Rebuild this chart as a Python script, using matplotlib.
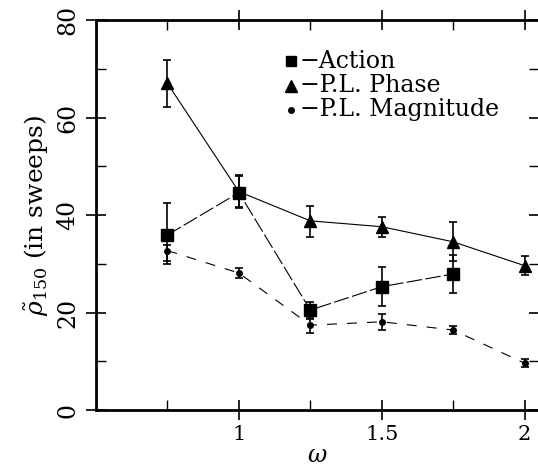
import matplotlib.pyplot as plt
import numpy as np

# data
omega = [0.75, 1.0, 1.25, 1.5, 1.75, 2.0]

phase = [67.0, 44.8, 38.8, 37.6, 34.5, 29.6]
phase_lo = [4.8, 3.2, 3.4, 2.2, 4.0, 2.0]
phase_hi = [4.8, 3.4, 3.0, 2.0, 4.0, 2.0]

action_x = [0.75, 1.0, 1.25, 1.5, 1.75]
action = [35.9, 44.6, 20.5, 25.3, 27.9]
action_lo = [6.0, 3.2, 1.6, 4.0, 3.8]
action_hi = [6.6, 3.4, 1.7, 4.0, 3.9]

mag = [32.7, 28.1, 17.4, 18.1, 16.4, 9.6]
mag_lo = [2.2, 1.0, 1.6, 1.6, 0.8, 0.8]
mag_hi = [1.2, 1.0, 1.2, 1.6, 0.8, 0.8]

plt.rcParams['font.family'] = ['DejaVu Serif']
plt.rcParams['mathtext.fontset'] = 'dejavuserif'

fig = plt.figure(figsize=(5.38, 4.71), dpi=100)
ax = fig.add_axes([0.1784, 0.1295, 0.8234, 0.828])

ax.errorbar(omega, phase, yerr=[phase_lo, phase_hi], color='black', lw=0.8,
            marker='^', ms=8, capsize=3, elinewidth=1.2, capthick=1.2)
ax.errorbar(action_x, action, yerr=[action_lo, action_hi], color='black', lw=0.8,
            ls=(0, (14, 3)), marker='s', ms=8, capsize=3, elinewidth=1.2, capthick=1.2)
ax.errorbar(omega, mag, yerr=[mag_lo, mag_hi], color='black', lw=0.8,
            ls=(0, (9, 9)), marker='o', ms=4, capsize=3, elinewidth=1.2, capthick=1.2)

ax.set_xlim(0.5, 2.05)
ax.set_ylim(0, 80)
ax.set_xticks([1, 1.5, 2])
ax.set_xticklabels(['1', '1.5', '2'])
ax.set_xticks([0.75, 1.25, 1.75], minor=True)
ax.set_yticks([0, 20, 40, 60, 80])
ax.set_yticks([10, 30, 50, 70], minor=True)
ax.tick_params(which='major', direction='inout', length=14, width=1.2,
               labelsize=15, top=True, right=True, pad=4)
ax.tick_params(axis='y', which='major', labelsize=17, pad=5)
ax.tick_params(which='minor', direction='in', length=7, width=1.0, top=True, right=True)
for lab in ax.get_yticklabels():
    lab.set_rotation(90)
    lab.set_va('center')
for sp in ax.spines.values():
    sp.set_linewidth(2)

ax.set_xlabel(r'$\omega$', fontsize=17, labelpad=0)
ax.set_ylabel(r'$\tilde{\rho}_{150}$ (in sweeps)', fontsize=18, labelpad=4)

# legend drawn as marker + text, like the original
rows = [('s', 7, '−Action'), ('^', 8, '−P.L. Phase'), ('o', 4, '−P.L. Magnitude')]
for i, (m, s, txt) in enumerate(rows):
    yy = 0.894 - i * 0.062
    ax.plot([0.44], [yy], marker=m, ms=s, color='black', transform=ax.transAxes, clip_on=False)
    ax.text(0.46, yy, txt, transform=ax.transAxes, fontsize=17, va='center', ha='left')

fig.savefig('out.png', dpi=100)
